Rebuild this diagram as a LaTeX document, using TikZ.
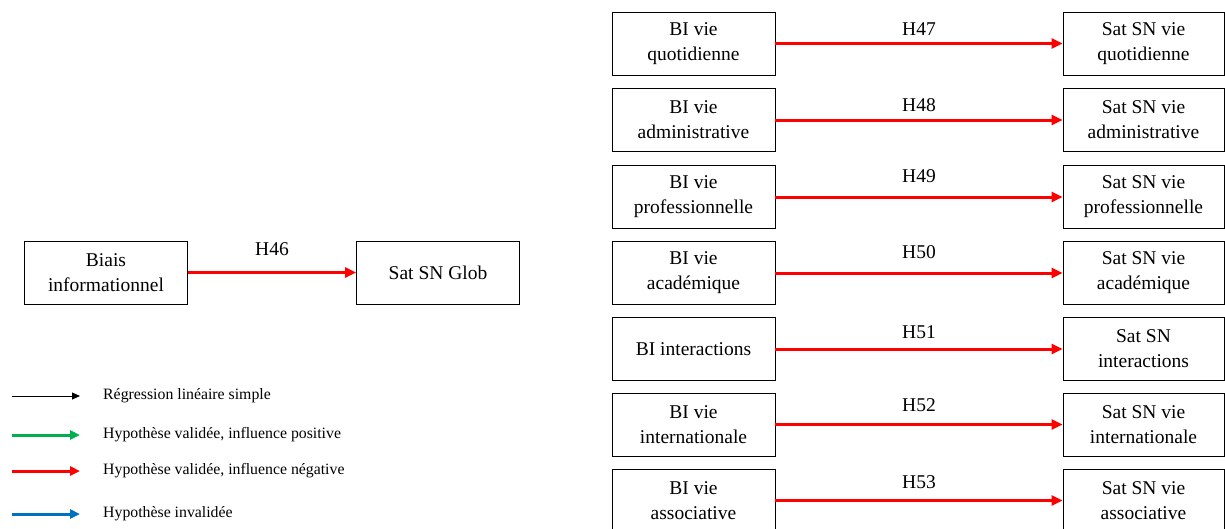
\documentclass[tikz,border=0pt]{standalone}
\usepackage{fontspec}
\setmainfont{Liberation Serif}
\usetikzlibrary{calc,arrows.meta,positioning}
\definecolor{hypred}{RGB}{255,0,0}
\definecolor{hypgreen}{RGB}{0,176,80}
\definecolor{hypblue}{RGB}{0,112,192}
\tikzstyle{var} = [draw=black,line width=0.9pt,minimum width=163pt,minimum height=63pt,inner sep=0pt,align=center,font=\fontsize{19.5}{25}\selectfont]
\tikzstyle{neg} = [draw=hypred,line width=3pt,-{Triangle[length=11pt,width=10pt]}]
\tikzstyle{lbl} = [inner sep=0pt,font=\fontsize{19.5}{25}\selectfont]
\tikzstyle{leg} = [anchor=west,inner sep=0pt,font=\fontsize{15.8}{18}\selectfont]

\begin{document}
\begin{tikzpicture}[x=1pt,y=-1pt]
	\useasboundingbox (0,0) rectangle (1225,528);

	%% global model
	\node[var] (BIG) at (106,272.5) {Biais\\informationnel};
	\node[var] (SNG) at (438,272.5) {Sat SN Glob};
	\draw[neg] (BIG) -- (SNG) node[lbl,midway,above=15pt] {H46};

	%% left column (biais informationnel by domain)
	\node[var] (BI1) at (693.5,43.5) {BI vie\\quotidienne};
	\node[var] (BI2) at (693.5,120) {BI vie\\administrative};
	\node[var] (BI3) at (693.5,197) {BI vie\\professionnelle};
	\node[var] (BI4) at (693.5,273) {BI vie\\académique};
	\node[var] (BI5) at (693.5,349) {BI interactions};
	\node[var] (BI6) at (693.5,424.5) {BI vie\\internationale};
	\node[var] (BI7) at (693.5,500.5) {BI vie\\associative};

	%% right column (satisfaction by domain)
	\node[var,minimum width=161pt] (SN1) at (1143.5,43.5) {Sat SN vie\\quotidienne};
	\node[var,minimum width=161pt] (SN2) at (1143.5,120) {Sat SN vie\\administrative};
	\node[var,minimum width=161pt] (SN3) at (1143.5,197) {Sat SN vie\\professionnelle};
	\node[var,minimum width=161pt] (SN4) at (1143.5,273) {Sat SN vie\\académique};
	\node[var,minimum width=161pt] (SN5) at (1143.5,349) {Sat SN\\interactions};
	\node[var,minimum width=161pt] (SN6) at (1143.5,424.5) {Sat SN vie\\internationale};
	\node[var,minimum width=161pt] (SN7) at (1143.5,500.5) {Sat SN vie\\associative};

	%% hypotheses
	\draw[neg] (BI1) -- (SN1) node[lbl,midway,above=7pt] {H47};
	\draw[neg] (BI2) -- (SN2) node[lbl,midway,above=7pt] {H48};
	\draw[neg] (BI3) -- (SN3) node[lbl,midway,above=13pt] {H49};
	\draw[neg] (BI4) -- (SN4) node[lbl,midway,above=13pt] {H50};
	\draw[neg] (BI5) -- (SN5) node[lbl,midway,above=9pt] {H51};
	\draw[neg] (BI6) -- (SN6) node[lbl,midway,above=11pt] {H52};
	\draw[neg] (BI7) -- (SN7) node[lbl,midway,above=10pt] {H53};

	%% legend
	\coordinate (L1a) at (12,396);  \coordinate (L1b) at (80,396);
	\coordinate (L2a) at (12,435);  \coordinate (L2b) at (80,435);
	\coordinate (L3a) at (12,471);  \coordinate (L3b) at (80,471);
	\coordinate (L4a) at (12,514);  \coordinate (L4b) at (80,514);
	\draw[black,line width=0.8pt,-{Triangle[length=8pt,width=7pt]}] (L1a) -- (L1b);
	\draw[draw=hypgreen,line width=3pt,-{Triangle[length=10pt,width=9pt]}] (L2a) -- (L2b);
	\draw[draw=hypred,line width=3pt,-{Triangle[length=10pt,width=9pt]}] (L3a) -- (L3b);
	\draw[draw=hypblue,line width=3pt,-{Triangle[length=10pt,width=9pt]}] (L4a) -- (L4b);
	\node[leg] (T1) at (103,396) {Régression linéaire simple};
	\node[leg] (T2) at (103,435) {Hypothèse validée, influence positive};
	\node[leg] (T3) at (103,471) {Hypothèse validée, influence négative};
	\node[leg] (T4) at (103,514) {Hypothèse invalidée};
\end{tikzpicture}
\end{document}
